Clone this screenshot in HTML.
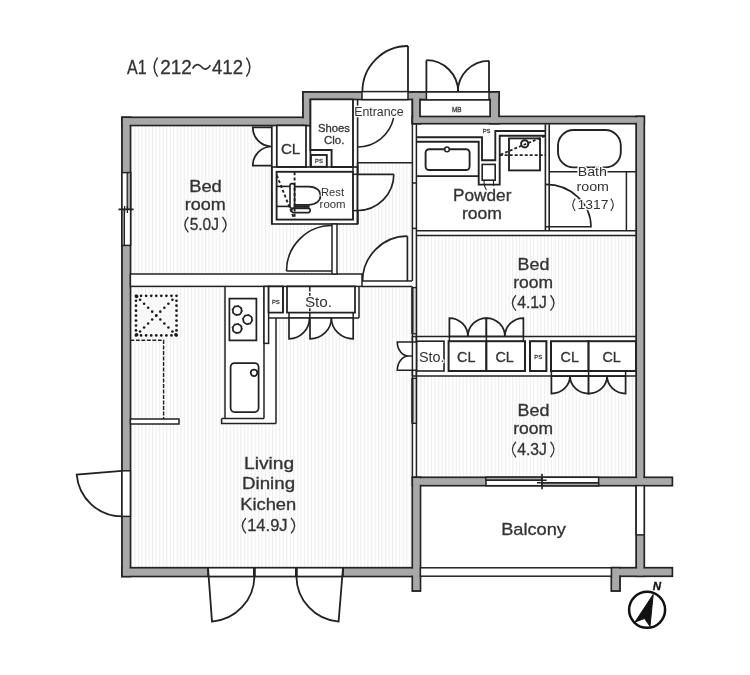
<!DOCTYPE html>
<html><head><meta charset="utf-8"><title>A1 floor plan</title>
<style>
html,body{margin:0;padding:0;background:#fff;}
body{width:750px;height:675px;overflow:hidden;font-family:"Liberation Sans",sans-serif;}
svg{display:block;will-change:transform;}
svg text{font-family:"Liberation Sans",sans-serif;}
</style></head><body>
<svg width="750" height="675" viewBox="0 0 750 675">
<rect x="0" y="0" width="750" height="675" fill="#ffffff"/>
<defs><pattern id="st" x="0.3" y="0" width="3.53" height="10" patternUnits="userSpaceOnUse"><rect x="0" y="0" width="3.53" height="10" fill="#fefefe"/><rect x="0" y="0" width="1.0" height="10" fill="#ededed"/></pattern></defs>
<rect x="130" y="124" width="506.5" height="444" fill="url(#st)"/>
<rect x="271.80" y="99.00" width="85.80" height="125.00" fill="#fff" stroke="none" stroke-width="0.0" />
<rect x="357.60" y="99.00" width="54.80" height="63.80" fill="#fff" stroke="none" stroke-width="0.0" />
<rect x="412.40" y="124.00" width="223.80" height="111.60" fill="#fff" stroke="none" stroke-width="0.0" />
<rect x="130.40" y="274.00" width="231.60" height="12.40" fill="#fff" stroke="none" stroke-width="0.0" />
<rect x="362.00" y="281.00" width="50.00" height="5.40" fill="#fff" stroke="none" stroke-width="0.0" />
<rect x="225.00" y="286.40" width="51.00" height="137.00" fill="#fff" stroke="none" stroke-width="0.0" />
<rect x="221.60" y="418.40" width="4.40" height="5.00" fill="#fff" stroke="none" stroke-width="0.0" />
<rect x="264.00" y="286.40" width="95.00" height="31.60" fill="#fff" stroke="none" stroke-width="0.0" />
<rect x="412.40" y="337.00" width="223.80" height="39.00" fill="#fff" stroke="none" stroke-width="0.0" />
<rect x="412.40" y="124.00" width="4.00" height="354.00" fill="#fff" stroke="none" stroke-width="0.0" />
<rect x="420.40" y="485.60" width="215.80" height="82.40" fill="#fff" stroke="none" stroke-width="0.0" />
<rect x="130.00" y="100.00" width="141.80" height="25.00" fill="#fff" stroke="none" stroke-width="0.0" />
<rect x="412.00" y="100.00" width="228.00" height="18.00" fill="#fff" stroke="none" stroke-width="0.0" />
<rect x="122.00" y="117.40" width="8.40" height="459.00" fill="#a8a8a8" stroke="#222" stroke-width="1.88" />
<rect x="122.00" y="117.40" width="188.40" height="8.00" fill="#a8a8a8" stroke="#222" stroke-width="1.88" />
<rect x="303.00" y="92.00" width="7.40" height="33.40" fill="#a8a8a8" stroke="#222" stroke-width="1.88" />
<rect x="303.00" y="92.00" width="196.00" height="7.40" fill="#a8a8a8" stroke="#222" stroke-width="1.88" />
<rect x="412.40" y="92.00" width="7.70" height="31.60" fill="#a8a8a8" stroke="#222" stroke-width="1.88" />
<rect x="490.00" y="92.00" width="9.00" height="31.60" fill="#a8a8a8" stroke="#222" stroke-width="1.88" />
<rect x="412.40" y="116.50" width="231.80" height="7.10" fill="#a8a8a8" stroke="#222" stroke-width="1.88" />
<rect x="636.20" y="116.50" width="8.00" height="459.70" fill="#a8a8a8" stroke="#222" stroke-width="1.88" />
<rect x="412.60" y="477.40" width="259.70" height="8.20" fill="#a8a8a8" stroke="#222" stroke-width="1.88" />
<rect x="122.00" y="567.80" width="298.40" height="8.60" fill="#a8a8a8" stroke="#222" stroke-width="1.88" />
<rect x="412.40" y="477.40" width="8.00" height="113.60" fill="#a8a8a8" stroke="#222" stroke-width="1.88" />
<rect x="611.40" y="567.80" width="60.90" height="8.40" fill="#a8a8a8" stroke="#222" stroke-width="1.88" />
<rect x="611.40" y="567.80" width="8.60" height="23.20" fill="#a8a8a8" stroke="#222" stroke-width="1.88" />
<rect x="122.93" y="118.33" width="6.54" height="457.14" fill="#a8a8a8" stroke="none" stroke-width="0.0" />
<rect x="122.93" y="118.33" width="186.54" height="6.14" fill="#a8a8a8" stroke="none" stroke-width="0.0" />
<rect x="303.93" y="92.93" width="5.54" height="31.54" fill="#a8a8a8" stroke="none" stroke-width="0.0" />
<rect x="303.93" y="92.93" width="194.14" height="5.54" fill="#a8a8a8" stroke="none" stroke-width="0.0" />
<rect x="413.33" y="92.93" width="5.84" height="29.74" fill="#a8a8a8" stroke="none" stroke-width="0.0" />
<rect x="490.93" y="92.93" width="7.14" height="29.74" fill="#a8a8a8" stroke="none" stroke-width="0.0" />
<rect x="413.33" y="117.43" width="229.94" height="5.24" fill="#a8a8a8" stroke="none" stroke-width="0.0" />
<rect x="637.13" y="117.43" width="6.14" height="457.84" fill="#a8a8a8" stroke="none" stroke-width="0.0" />
<rect x="413.53" y="478.33" width="257.84" height="6.34" fill="#a8a8a8" stroke="none" stroke-width="0.0" />
<rect x="122.93" y="568.73" width="296.54" height="6.74" fill="#a8a8a8" stroke="none" stroke-width="0.0" />
<rect x="413.33" y="478.33" width="6.14" height="111.74" fill="#a8a8a8" stroke="none" stroke-width="0.0" />
<rect x="612.33" y="568.73" width="59.04" height="6.54" fill="#a8a8a8" stroke="none" stroke-width="0.0" />
<rect x="612.33" y="568.73" width="6.74" height="21.34" fill="#a8a8a8" stroke="none" stroke-width="0.0" />
<rect x="362.00" y="91.60" width="46.00" height="8.00" fill="#fff" stroke="#222" stroke-width="1.5" />
<path d="M408.00,46.00 A45.60,45.60 0 0 0 362.40,91.60" fill="none" stroke="#222" stroke-width="1.81" />
<line x1="408.00" y1="91.60" x2="408.00" y2="46.00" stroke="#222" stroke-width="1.81" />
<rect x="426.40" y="92.00" width="62.60" height="8.00" fill="#fff" stroke="#222" stroke-width="1.5" />
<rect x="420.10" y="100.00" width="69.90" height="16.40" fill="#fff" stroke="#222" stroke-width="1.5" />
<path d="M426.40,60.20 A31.80,31.80 0 0 1 458.20,92.00" fill="none" stroke="#222" stroke-width="1.81" />
<line x1="426.40" y1="92.00" x2="426.40" y2="60.20" stroke="#222" stroke-width="1.81" />
<path d="M489.00,60.80 A31.20,31.20 0 0 0 457.80,92.00" fill="none" stroke="#222" stroke-width="1.81" />
<line x1="489.00" y1="92.00" x2="489.00" y2="60.80" stroke="#222" stroke-width="1.81" />
<text x="456.70" y="111.60" font-size="6.4" text-anchor="middle" font-weight="normal" font-style="normal" fill="#444"  stroke="#444" stroke-width="0.3">MB</text>
<rect x="122.00" y="172.60" width="8.60" height="72.80" fill="#fff" stroke="#222" stroke-width="1.5" />
<rect x="127.20" y="172.60" width="3.40" height="36.80" fill="#a8a8a8" stroke="#222" stroke-width="1.25" />
<rect x="122.00" y="209.40" width="2.40" height="36.00" fill="#a8a8a8" stroke="#222" stroke-width="1.25" />
<line x1="118.40" y1="209.40" x2="133.60" y2="209.40" stroke="#222" stroke-width="1.75" />
<line x1="124.60" y1="206.00" x2="124.60" y2="213.00" stroke="#222" stroke-width="1.25" />
<line x1="127.40" y1="206.00" x2="127.40" y2="213.00" stroke="#222" stroke-width="1.25" />
<rect x="122.00" y="470.80" width="8.40" height="45.60" fill="#fff" stroke="#222" stroke-width="1.5" />
<path d="M122,470.8 L76.7,474.6 A45.6,45.6 0 0 0 122,516.4" fill="none" stroke="#222" stroke-width="1.81" />
<rect x="208.00" y="567.80" width="135.00" height="8.60" fill="#fff" stroke="#222" stroke-width="1.5" />
<line x1="254.40" y1="567.80" x2="254.40" y2="576.40" stroke="#222" stroke-width="2.75" />
<line x1="296.40" y1="567.80" x2="296.40" y2="576.40" stroke="#222" stroke-width="2.75" />
<path d="M208,567.8 L212,621.6 A46,46 0 0 0 254.4,576.4" fill="none" stroke="#222" stroke-width="1.81" />
<path d="M343,567.8 L338.6,621.6 A46,46 0 0 1 296.4,576.4" fill="none" stroke="#222" stroke-width="1.81" />
<rect x="486.00" y="477.30" width="112.60" height="8.40" fill="#fff" stroke="#222" stroke-width="1.5" />
<rect x="486.00" y="477.30" width="56.00" height="2.90" fill="#a8a8a8" stroke="#222" stroke-width="1.12" />
<rect x="542.00" y="482.80" width="56.60" height="2.90" fill="#a8a8a8" stroke="#222" stroke-width="1.12" />
<line x1="486.00" y1="480.20" x2="546.60" y2="480.20" stroke="#222" stroke-width="1.5" />
<line x1="537.00" y1="482.80" x2="598.60" y2="482.80" stroke="#222" stroke-width="1.5" />
<line x1="542.00" y1="473.70" x2="542.00" y2="489.30" stroke="#222" stroke-width="1.62" />
<rect x="636.20" y="485.60" width="8.00" height="49.30" fill="#fff" stroke="#222" stroke-width="1.5" />
<rect x="420.40" y="567.80" width="191.00" height="8.40" fill="#fff" stroke="#222" stroke-width="1.5" />
<rect x="130.40" y="274.00" width="231.60" height="12.40" fill="#fff" stroke="#222" stroke-width="1.5" />
<line x1="412.40" y1="124.20" x2="412.40" y2="281.00" stroke="#222" stroke-width="1.5" />
<line x1="412.40" y1="286.40" x2="412.40" y2="478.00" stroke="#222" stroke-width="1.5" />
<line x1="416.40" y1="124.20" x2="416.40" y2="478.00" stroke="#222" stroke-width="1.5" />
<rect x="412.40" y="287.60" width="4.00" height="46.20" fill="#d8d8d8" stroke="#222" stroke-width="1.38" />
<rect x="412.40" y="378.30" width="4.00" height="45.00" fill="#d8d8d8" stroke="#222" stroke-width="1.38" />
<line x1="412.40" y1="287.60" x2="412.40" y2="333.80" stroke="#222" stroke-width="2.12" />
<line x1="412.40" y1="378.30" x2="412.40" y2="423.30" stroke="#222" stroke-width="2.12" />
<line x1="412.40" y1="183.00" x2="416.40" y2="183.00" stroke="#222" stroke-width="1.5" />
<line x1="412.40" y1="228.40" x2="416.40" y2="228.40" stroke="#222" stroke-width="1.5" />
<line x1="416.40" y1="230.80" x2="636.20" y2="230.80" stroke="#222" stroke-width="1.5" />
<line x1="416.40" y1="235.60" x2="636.20" y2="235.60" stroke="#222" stroke-width="1.5" />
<line x1="412.40" y1="336.40" x2="636.20" y2="336.40" stroke="#222" stroke-width="1.5" />
<line x1="412.40" y1="376.00" x2="636.20" y2="376.00" stroke="#222" stroke-width="1.5" />
<path d="M271.8,127.4 L252.8,127.4 A19,19 0 0 0 271.2,146.5 A19,19 0 0 0 252.8,165.6 L271.8,165.6" fill="#fff" stroke="#222" stroke-width="1.69" />
<line x1="271.80" y1="125.40" x2="271.80" y2="224.00" stroke="#222" stroke-width="1.75" />
<rect x="276.80" y="125.40" width="29.20" height="41.60" fill="#fff" stroke="#222" stroke-width="1.75" />
<line x1="310.40" y1="125.40" x2="310.40" y2="167.00" stroke="#222" stroke-width="1.75" />
<path d="M310.40,99.40 L353.00,99.40 L353.00,167.00 L331.60,167.00 L331.60,150.00 L310.40,150.00 Z" fill="#fff" stroke="#222" stroke-width="1.88" />
<line x1="357.60" y1="99.40" x2="357.60" y2="224.00" stroke="#222" stroke-width="1.62" />
<rect x="311.00" y="155.00" width="15.80" height="11.80" fill="#fff" stroke="#222" stroke-width="1.88" />
<text x="318.90" y="163.20" font-size="5.8" text-anchor="middle" font-weight="normal" font-style="normal" fill="#444"  stroke="#444" stroke-width="0.3">PS</text>
<rect x="271.80" y="167.00" width="85.80" height="57.00" fill="none" stroke="#222" stroke-width="1.62" />
<rect x="276.60" y="171.80" width="76.40" height="47.80" fill="none" stroke="#222" stroke-width="1.88" />
<line x1="353.00" y1="167.00" x2="353.00" y2="171.80" stroke="#222" stroke-width="1.5" />
<line x1="357.60" y1="162.80" x2="412.40" y2="162.80" stroke="#222" stroke-width="1.5" />
<line x1="412.40" y1="99.40" x2="412.40" y2="124.20" stroke="#222" stroke-width="1.5" />
<path d="M393.6,118 A37,37 0 0 1 357.6,147" fill="none" stroke="#222" stroke-width="1.5" />
<path d="M357.60,174.30 L393.80,174.30 A36.20,36.20 0 0 1 357.60,210.50 Z" fill="#fff" stroke="none" stroke-width="1.5" />
<path d="M393.80,174.30 A36.20,36.20 0 0 1 357.60,210.50" fill="none" stroke="#222" stroke-width="1.69" />
<line x1="357.60" y1="174.30" x2="393.80" y2="174.30" stroke="#222" stroke-width="1.69" />
<line x1="357.60" y1="162.80" x2="357.60" y2="224.00" stroke="#222" stroke-width="1.62" />
<line x1="353.00" y1="174.30" x2="357.60" y2="174.30" stroke="#222" stroke-width="1.5" />
<line x1="353.00" y1="210.60" x2="357.60" y2="210.60" stroke="#222" stroke-width="1.5" />
<path d="M332.00,271.00 L286.50,271.00 A45.50,45.50 0 0 1 332.00,225.50 Z" fill="#fff" stroke="none" stroke-width="1.5" />
<path d="M286.50,271.00 A45.50,45.50 0 0 1 332.00,225.50" fill="none" stroke="#222" stroke-width="1.69" />
<line x1="332.00" y1="271.00" x2="286.50" y2="271.00" stroke="#222" stroke-width="1.69" />
<rect x="332.00" y="224.00" width="5.00" height="50.00" fill="#fff" stroke="#222" stroke-width="1.5" />
<path d="M407.40,281.00 L407.40,236.20 A44.80,44.80 0 0 0 362.60,281.00 Z" fill="#fff" stroke="none" stroke-width="1.5" />
<path d="M407.40,236.20 A44.80,44.80 0 0 0 362.60,281.00" fill="none" stroke="#222" stroke-width="1.69" />
<line x1="407.40" y1="281.00" x2="407.40" y2="236.20" stroke="#222" stroke-width="1.69" />
<line x1="362.00" y1="281.00" x2="412.00" y2="281.00" stroke="#222" stroke-width="1.5" />
<line x1="362.00" y1="286.40" x2="412.00" y2="286.40" stroke="#222" stroke-width="1.5" />
<line x1="276.60" y1="186.40" x2="289.80" y2="186.40" stroke="#222" stroke-width="1.62" />
<line x1="276.60" y1="206.40" x2="289.80" y2="206.40" stroke="#222" stroke-width="1.62" />
<path d="M294.4,186.6 L309,186.6 C316.5,186.8 320.6,191 320.6,195.6 C320.6,200.4 316.5,204.6 309,204.8 L294.4,204.8" fill="#fff" stroke="#222" stroke-width="1.75" />
<rect x="290.00" y="183.60" width="4.60" height="24.60" fill="#fff" stroke="#222" stroke-width="1.62" rx="2"/>
<line x1="294.60" y1="206.60" x2="309.60" y2="206.60" stroke="#222" stroke-width="2.5" />
<rect x="291.60" y="208.40" width="18.60" height="4.20" fill="#fff" stroke="#222" stroke-width="1.62" rx="2"/>
<line x1="294.60" y1="172.20" x2="294.60" y2="219.60" stroke="#222" stroke-width="1.88" stroke-dasharray="3 2.2"/>
<line x1="276.80" y1="175.40" x2="294.40" y2="219.40" stroke="#222" stroke-width="1.88" stroke-dasharray="3 2.2"/>
<path d="M416.40,137.20 L482.00,137.20 L482.00,160.30 L495.30,160.30 L495.30,131.00 L545.30,131.00" fill="none" stroke="#222" stroke-width="1.88" />
<path d="M545.30,135.80 L499.70,135.80 L499.70,184.60 L478.70,184.60 L478.70,141.80 L416.40,141.80" fill="none" stroke="#222" stroke-width="1.88" />
<line x1="416.40" y1="176.00" x2="478.70" y2="176.00" stroke="#222" stroke-width="1.75" />
<rect x="425.60" y="149.20" width="44.00" height="20.80" fill="#fff" stroke="#222" stroke-width="1.88" rx="3.5"/>
<circle cx="447.00" cy="149.40" r="2.30" fill="#fff" stroke="#222" stroke-width="1.5"/>
<rect x="482.20" y="164.40" width="13.00" height="15.80" fill="#fff" stroke="#222" stroke-width="1.62" />
<path d="M484,180.2 C484,185 485,188 486.5,190 M493.5,180.2 L493.5,186" fill="none" stroke="#222" stroke-width="1.12" />
<text x="486.60" y="133.30" font-size="5.8" text-anchor="middle" font-weight="normal" font-style="normal" fill="#444"  stroke="#444" stroke-width="0.3">PS</text>
<rect x="509.00" y="138.40" width="31.00" height="32.00" fill="#fff" stroke="#222" stroke-width="1.88" />
<circle cx="524.70" cy="143.80" r="3.60" fill="#fff" stroke="#222" stroke-width="2.0"/>
<line x1="499.70" y1="155.00" x2="545.30" y2="155.00" stroke="#222" stroke-width="1.75" stroke-dasharray="3 2"/>
<line x1="500.50" y1="154.60" x2="545.00" y2="136.00" stroke="#222" stroke-width="1.75" stroke-dasharray="3 2"/>
<rect x="558.00" y="130.00" width="62.80" height="37.40" fill="#fff" stroke="#222" stroke-width="1.88" rx="15.5" ry="15.5"/>
<line x1="549.20" y1="171.80" x2="636.20" y2="171.80" stroke="#222" stroke-width="1.5" />
<line x1="626.40" y1="171.80" x2="626.40" y2="230.80" stroke="#222" stroke-width="1.5" />
<path d="M545.6,226.8 L545.6,184.4 A45.4,42.4 0 0 1 591,226.8 Z" fill="#fff" stroke="none" stroke-width="1.5" />
<path d="M545.6,184.4 A45.4,42.4 0 0 1 591,226.8 L545.6,226.8" fill="none" stroke="#222" stroke-width="1.62" />
<line x1="545.40" y1="124.20" x2="545.40" y2="230.80" stroke="#222" stroke-width="1.62" />
<line x1="549.20" y1="124.20" x2="549.20" y2="230.80" stroke="#222" stroke-width="1.62" />
<rect x="416.60" y="341.20" width="27.40" height="29.80" fill="#fff" stroke="#222" stroke-width="1.62" />
<rect x="448.60" y="341.20" width="37.80" height="29.80" fill="#fff" stroke="#222" stroke-width="2.0" />
<rect x="486.40" y="341.20" width="38.60" height="29.80" fill="#fff" stroke="#222" stroke-width="2.0" />
<rect x="530.00" y="341.20" width="16.40" height="29.80" fill="#fff" stroke="#222" stroke-width="2.0" />
<rect x="551.00" y="341.20" width="37.60" height="29.80" fill="#fff" stroke="#222" stroke-width="2.0" />
<rect x="588.60" y="341.20" width="47.40" height="29.80" fill="#fff" stroke="#222" stroke-width="2.0" />
<text x="538.20" y="358.80" font-size="5.8" text-anchor="middle" font-weight="normal" font-style="normal" fill="#444"  stroke="#444" stroke-width="0.3">PS</text>
<path d="M416.6,342 L397.3,342 A11.4,14 0 0 0 408.7,356 L412.2,356 L408.7,356 A11.4,14.2 0 0 0 397.3,370.2 L416.6,370.2" fill="#fff" stroke="#222" stroke-width="1.62" />
<line x1="416.40" y1="336.40" x2="416.40" y2="376.00" stroke="#222" stroke-width="1.5" />
<line x1="412.40" y1="336.40" x2="412.40" y2="376.00" stroke="#222" stroke-width="1.5" />
<path d="M449.4,336.4 L449.4,318.0 A18.50,18.4 0 0 1 467.9,336.4 A18.50,18.4 0 0 1 486.4,318.0 L486.4,336.4 Z" fill="#fff" stroke="#222" stroke-width="1.75" />
<path d="M486.4,336.4 L486.4,318.0 A18.50,18.4 0 0 1 504.9,336.4 A18.50,18.4 0 0 1 523.4,318.0 L523.4,336.4 Z" fill="#fff" stroke="#222" stroke-width="1.75" />
<path d="M551.4,376 L551.4,393.6 A18.60,17.6 0 0 0 570.0,376 A18.60,17.6 0 0 0 588.6,393.6 L588.6,376 Z" fill="#fff" stroke="#222" stroke-width="1.75" />
<path d="M588.6,376 L588.6,393.6 A18.50,17.6 0 0 0 607.1,376 A18.50,17.6 0 0 0 625.6,393.6 L625.6,376 Z" fill="#fff" stroke="#222" stroke-width="1.75" />
<line x1="551.40" y1="371.00" x2="551.40" y2="376.00" stroke="#222" stroke-width="1.5" />
<line x1="588.60" y1="371.00" x2="588.60" y2="376.00" stroke="#222" stroke-width="1.5" />
<line x1="625.60" y1="371.00" x2="625.60" y2="376.00" stroke="#222" stroke-width="1.5" />
<line x1="449.40" y1="336.40" x2="449.40" y2="341.20" stroke="#222" stroke-width="1.5" />
<line x1="486.40" y1="336.40" x2="486.40" y2="341.20" stroke="#222" stroke-width="1.5" />
<line x1="523.40" y1="336.40" x2="523.40" y2="341.20" stroke="#222" stroke-width="1.5" />
<line x1="225.00" y1="286.40" x2="225.00" y2="418.40" stroke="#222" stroke-width="1.5" />
<line x1="264.00" y1="286.40" x2="264.00" y2="418.40" stroke="#222" stroke-width="1.5" />
<rect x="264.00" y="286.40" width="4.60" height="57.00" fill="#fff" stroke="#222" stroke-width="1.5" />
<rect x="268.60" y="286.40" width="14.40" height="26.20" fill="#fff" stroke="#222" stroke-width="1.75" />
<text x="275.80" y="304.00" font-size="5.8" text-anchor="middle" font-weight="normal" font-style="normal" fill="#444"  stroke="#444" stroke-width="0.3">PS</text>
<rect x="287.00" y="286.40" width="68.00" height="26.20" fill="#fff" stroke="#222" stroke-width="1.75" />
<line x1="283.00" y1="286.40" x2="283.00" y2="312.60" stroke="#222" stroke-width="1.5" />
<line x1="359.00" y1="286.40" x2="359.00" y2="318.00" stroke="#222" stroke-width="1.5" />
<line x1="268.60" y1="318.00" x2="359.00" y2="318.00" stroke="#222" stroke-width="1.5" />
<line x1="276.00" y1="318.00" x2="276.00" y2="423.40" stroke="#222" stroke-width="1.5" />
<path d="M221.60,418.40 L264.00,418.40" fill="none" stroke="#222" stroke-width="1.5" />
<path d="M221.60,418.40 L221.60,423.40 L276.00,423.40" fill="none" stroke="#222" stroke-width="1.5" />
<line x1="309.80" y1="286.40" x2="309.80" y2="318.00" stroke="#222" stroke-width="1.5" stroke-dasharray="5 1.6"/>
<rect x="229.40" y="298.60" width="27.00" height="41.80" fill="#fff" stroke="#222" stroke-width="1.75" />
<circle cx="237.20" cy="310.40" r="4.40" fill="#fff" stroke="#222" stroke-width="1.75"/>
<circle cx="237.2" cy="310.4" r="5.1" fill="none" stroke="#222" stroke-width="1" stroke-dasharray="1.3 2.7"/>
<circle cx="247.60" cy="319.60" r="4.40" fill="#fff" stroke="#222" stroke-width="1.75"/>
<circle cx="247.6" cy="319.6" r="5.1" fill="none" stroke="#222" stroke-width="1" stroke-dasharray="1.3 2.7"/>
<circle cx="237.20" cy="328.40" r="4.40" fill="#fff" stroke="#222" stroke-width="1.75"/>
<circle cx="237.2" cy="328.4" r="5.1" fill="none" stroke="#222" stroke-width="1" stroke-dasharray="1.3 2.7"/>
<rect x="230.60" y="363.00" width="28.00" height="49.00" fill="#fff" stroke="#222" stroke-width="1.75" rx="4"/>
<circle cx="254.00" cy="372.80" r="3.30" fill="#fff" stroke="#222" stroke-width="1.75"/>
<path d="M289,318 L289,338.8 A20.5,20.8 0 0 0 309.5,318 Z" fill="#fff" stroke="#222" stroke-width="1.69" />
<line x1="289.00" y1="312.60" x2="289.00" y2="318.00" stroke="#222" stroke-width="1.5" />
<path d="M310,318 L310,338.8 A21.4,20.8 0 0 0 331.4,318 Z" fill="#fff" stroke="#222" stroke-width="1.69" />
<path d="M353.2,318 L353.2,338.8 A21.8,20.8 0 0 1 331.4,318 Z" fill="#fff" stroke="#222" stroke-width="1.69" />
<line x1="353.20" y1="312.60" x2="353.20" y2="318.00" stroke="#222" stroke-width="1.5" />
<rect x="136.00" y="295.80" width="40.50" height="39.60" fill="#f8f8f8" stroke="none" stroke-width="0.0" />
<circle cx="136.00" cy="295.80" r="1.35" fill="#1a1a1a"/>
<circle cx="141.06" cy="295.80" r="1.35" fill="#1a1a1a"/>
<circle cx="146.12" cy="295.80" r="1.35" fill="#1a1a1a"/>
<circle cx="151.19" cy="295.80" r="1.35" fill="#1a1a1a"/>
<circle cx="156.25" cy="295.80" r="1.35" fill="#1a1a1a"/>
<circle cx="161.31" cy="295.80" r="1.35" fill="#1a1a1a"/>
<circle cx="166.38" cy="295.80" r="1.35" fill="#1a1a1a"/>
<circle cx="171.44" cy="295.80" r="1.35" fill="#1a1a1a"/>
<circle cx="176.50" cy="295.80" r="1.35" fill="#1a1a1a"/>
<circle cx="136.00" cy="335.40" r="1.35" fill="#1a1a1a"/>
<circle cx="141.06" cy="335.40" r="1.35" fill="#1a1a1a"/>
<circle cx="146.12" cy="335.40" r="1.35" fill="#1a1a1a"/>
<circle cx="151.19" cy="335.40" r="1.35" fill="#1a1a1a"/>
<circle cx="156.25" cy="335.40" r="1.35" fill="#1a1a1a"/>
<circle cx="161.31" cy="335.40" r="1.35" fill="#1a1a1a"/>
<circle cx="166.38" cy="335.40" r="1.35" fill="#1a1a1a"/>
<circle cx="171.44" cy="335.40" r="1.35" fill="#1a1a1a"/>
<circle cx="176.50" cy="335.40" r="1.35" fill="#1a1a1a"/>
<circle cx="136.00" cy="300.75" r="1.35" fill="#1a1a1a"/>
<circle cx="136.00" cy="305.70" r="1.35" fill="#1a1a1a"/>
<circle cx="136.00" cy="310.65" r="1.35" fill="#1a1a1a"/>
<circle cx="136.00" cy="315.60" r="1.35" fill="#1a1a1a"/>
<circle cx="136.00" cy="320.55" r="1.35" fill="#1a1a1a"/>
<circle cx="136.00" cy="325.50" r="1.35" fill="#1a1a1a"/>
<circle cx="136.00" cy="330.45" r="1.35" fill="#1a1a1a"/>
<circle cx="176.50" cy="300.75" r="1.35" fill="#1a1a1a"/>
<circle cx="176.50" cy="305.70" r="1.35" fill="#1a1a1a"/>
<circle cx="176.50" cy="310.65" r="1.35" fill="#1a1a1a"/>
<circle cx="176.50" cy="315.60" r="1.35" fill="#1a1a1a"/>
<circle cx="176.50" cy="320.55" r="1.35" fill="#1a1a1a"/>
<circle cx="176.50" cy="325.50" r="1.35" fill="#1a1a1a"/>
<circle cx="176.50" cy="330.45" r="1.35" fill="#1a1a1a"/>
<circle cx="140.05" cy="299.76" r="1.3" fill="#1a1a1a"/>
<circle cx="144.10" cy="303.72" r="1.3" fill="#1a1a1a"/>
<circle cx="148.15" cy="307.68" r="1.3" fill="#1a1a1a"/>
<circle cx="152.20" cy="311.64" r="1.3" fill="#1a1a1a"/>
<circle cx="156.25" cy="315.60" r="1.3" fill="#1a1a1a"/>
<circle cx="160.30" cy="319.56" r="1.3" fill="#1a1a1a"/>
<circle cx="164.35" cy="323.52" r="1.3" fill="#1a1a1a"/>
<circle cx="168.40" cy="327.48" r="1.3" fill="#1a1a1a"/>
<circle cx="172.45" cy="331.44" r="1.3" fill="#1a1a1a"/>
<circle cx="172.45" cy="299.76" r="1.3" fill="#1a1a1a"/>
<circle cx="168.40" cy="303.72" r="1.3" fill="#1a1a1a"/>
<circle cx="164.35" cy="307.68" r="1.3" fill="#1a1a1a"/>
<circle cx="160.30" cy="311.64" r="1.3" fill="#1a1a1a"/>
<circle cx="156.25" cy="315.60" r="1.3" fill="#1a1a1a"/>
<circle cx="152.20" cy="319.56" r="1.3" fill="#1a1a1a"/>
<circle cx="148.15" cy="323.52" r="1.3" fill="#1a1a1a"/>
<circle cx="144.10" cy="327.48" r="1.3" fill="#1a1a1a"/>
<circle cx="140.05" cy="331.44" r="1.3" fill="#1a1a1a"/>
<circle cx="136.6" cy="296.4" r="1.8" fill="#1a1a1a"/>
<circle cx="175.9" cy="334.8" r="1.8" fill="#1a1a1a"/>
<circle cx="136.6" cy="334.8" r="1.8" fill="#1a1a1a"/>
<path d="M130.40,340.30 L163.60,340.30 L163.60,419.00" fill="none" stroke="#222" stroke-width="1.44" stroke-dasharray="3.8 1.7"/>
<rect x="130.40" y="419.00" width="48.60" height="5.00" fill="#fff" stroke="#222" stroke-width="1.5" />
<circle cx="647.10" cy="609.80" r="18.00" fill="#fff" stroke="#111" stroke-width="2.5"/>
<path d="M653.20,594.40 L635.00,622.00 L644.50,618.50 L650.00,626.30 Z" fill="#111" stroke="#111" stroke-width="1.0" />
<text x="656.80" y="590.40" font-size="11.5" text-anchor="middle" font-weight="bold" font-style="italic" fill="#111"  stroke="#111" stroke-width="0.3">N</text>
<text x="127.00" y="73.60" font-size="20" text-anchor="start" font-weight="normal" font-style="normal" fill="#333" textLength="19.60" lengthAdjust="spacingAndGlyphs"  stroke="#333" stroke-width="0.3">A1</text>
<text x="160.20" y="73.60" font-size="20" text-anchor="start" font-weight="normal" font-style="normal" fill="#333" textLength="31.60" lengthAdjust="spacingAndGlyphs"  stroke="#333" stroke-width="0.3">212</text>
<text x="212.00" y="73.60" font-size="20" text-anchor="start" font-weight="normal" font-style="normal" fill="#333" textLength="31.00" lengthAdjust="spacingAndGlyphs"  stroke="#333" stroke-width="0.3">412</text>
<path d="M157.6,57.6 Q150.6,67 157.6,76.6" fill="none" stroke="#333" stroke-width="1.5" />
<path d="M246.4,57.6 Q253.4,67 246.4,76.6" fill="none" stroke="#333" stroke-width="1.5" />
<path d="M192.6,68.6 C195.6,63.4 199,63.8 201.4,66.8 C203.8,69.8 207.4,70.4 210.4,65.2" fill="none" stroke="#333" stroke-width="1.62" />
<text x="189.20" y="191.80" font-size="16" text-anchor="start" font-weight="normal" font-style="normal" fill="#333" textLength="32.60" lengthAdjust="spacingAndGlyphs"  stroke="#333" stroke-width="0.3">Bed</text>
<text x="184.80" y="209.60" font-size="16.4" text-anchor="start" font-weight="normal" font-style="normal" fill="#333" textLength="41.00" lengthAdjust="spacingAndGlyphs"  stroke="#333" stroke-width="0.3">room</text>
<path d="M188.40,217.00 Q181.40,224.70 188.40,232.40" fill="none" stroke="#333" stroke-width="1.31" />
<path d="M222.50,217.00 Q229.50,224.70 222.50,232.40" fill="none" stroke="#333" stroke-width="1.31" />
<text x="189.70" y="230.20" font-size="17.2" text-anchor="start" font-weight="normal" font-style="normal" fill="#333" textLength="29.30" lengthAdjust="spacingAndGlyphs"  stroke="#333" stroke-width="0.3">5.0J</text>
<text x="517.60" y="270.00" font-size="16" text-anchor="start" font-weight="normal" font-style="normal" fill="#333" textLength="31.80" lengthAdjust="spacingAndGlyphs"  stroke="#333" stroke-width="0.3">Bed</text>
<text x="513.20" y="288.00" font-size="16.4" text-anchor="start" font-weight="normal" font-style="normal" fill="#333" textLength="39.80" lengthAdjust="spacingAndGlyphs"  stroke="#333" stroke-width="0.3">room</text>
<path d="M515.90,295.20 Q508.90,302.90 515.90,310.60" fill="none" stroke="#333" stroke-width="1.31" />
<path d="M550.50,295.20 Q557.50,302.90 550.50,310.60" fill="none" stroke="#333" stroke-width="1.31" />
<text x="517.20" y="308.40" font-size="17.2" text-anchor="start" font-weight="normal" font-style="normal" fill="#333" textLength="29.80" lengthAdjust="spacingAndGlyphs"  stroke="#333" stroke-width="0.3">4.1J</text>
<text x="517.60" y="415.60" font-size="16" text-anchor="start" font-weight="normal" font-style="normal" fill="#333" textLength="31.80" lengthAdjust="spacingAndGlyphs"  stroke="#333" stroke-width="0.3">Bed</text>
<text x="513.20" y="433.60" font-size="16.4" text-anchor="start" font-weight="normal" font-style="normal" fill="#333" textLength="39.80" lengthAdjust="spacingAndGlyphs"  stroke="#333" stroke-width="0.3">room</text>
<path d="M515.90,441.80 Q508.90,449.50 515.90,457.20" fill="none" stroke="#333" stroke-width="1.31" />
<path d="M550.50,441.80 Q557.50,449.50 550.50,457.20" fill="none" stroke="#333" stroke-width="1.31" />
<text x="517.20" y="455.00" font-size="17.2" text-anchor="start" font-weight="normal" font-style="normal" fill="#333" textLength="29.80" lengthAdjust="spacingAndGlyphs"  stroke="#333" stroke-width="0.3">4.3J</text>
<text x="244.00" y="468.60" font-size="16.2" text-anchor="start" font-weight="normal" font-style="normal" fill="#333" textLength="50.10" lengthAdjust="spacingAndGlyphs"  stroke="#333" stroke-width="0.3">Living</text>
<text x="242.00" y="489.40" font-size="16.2" text-anchor="start" font-weight="normal" font-style="normal" fill="#333" textLength="53.10" lengthAdjust="spacingAndGlyphs"  stroke="#333" stroke-width="0.3">Dining</text>
<text x="240.20" y="509.60" font-size="16.2" text-anchor="start" font-weight="normal" font-style="normal" fill="#333" textLength="56.10" lengthAdjust="spacingAndGlyphs"  stroke="#333" stroke-width="0.3">Kichen</text>
<path d="M245.90,518.00 Q238.90,525.70 245.90,533.40" fill="none" stroke="#333" stroke-width="1.31" />
<path d="M291.10,518.00 Q298.10,525.70 291.10,533.40" fill="none" stroke="#333" stroke-width="1.31" />
<text x="247.20" y="531.20" font-size="17.2" text-anchor="start" font-weight="normal" font-style="normal" fill="#333" textLength="40.40" lengthAdjust="spacingAndGlyphs"  stroke="#333" stroke-width="0.3">14.9J</text>
<text x="501.20" y="534.50" font-size="16.6" text-anchor="start" font-weight="normal" font-style="normal" fill="#333" textLength="64.80" lengthAdjust="spacingAndGlyphs"  stroke="#333" stroke-width="0.3">Balcony</text>
<text x="453.00" y="201.40" font-size="16.6" text-anchor="start" font-weight="normal" font-style="normal" fill="#333" textLength="58.40" lengthAdjust="spacingAndGlyphs"  stroke="#333" stroke-width="0.3">Powder</text>
<text x="462.00" y="219.40" font-size="16.6" text-anchor="start" font-weight="normal" font-style="normal" fill="#333" textLength="40.00" lengthAdjust="spacingAndGlyphs"  stroke="#333" stroke-width="0.3">room</text>
<text x="577.70" y="176.00" font-size="12" text-anchor="start" font-weight="normal" font-style="normal" fill="#333" textLength="29.30" lengthAdjust="spacingAndGlyphs" paint-order="stroke" stroke="#fff" stroke-width="2.5" stroke-linejoin="round">Bath</text>
<text x="576.50" y="191.00" font-size="12" text-anchor="start" font-weight="normal" font-style="normal" fill="#333" textLength="32.50" lengthAdjust="spacingAndGlyphs" paint-order="stroke" stroke="#fff" stroke-width="2.5" stroke-linejoin="round">room</text>
<text x="577.60" y="209.00" font-size="12.4" text-anchor="start" font-weight="normal" font-style="normal" fill="#333" textLength="31.00" lengthAdjust="spacingAndGlyphs" paint-order="stroke" stroke="#fff" stroke-width="2.5" stroke-linejoin="round">1317</text>
<path d="M575.2,198.6 Q570.4,204.4 575.2,211" fill="none" stroke="#333" stroke-width="1.12" />
<path d="M610.8,198.6 Q615.6,204.4 610.8,211" fill="none" stroke="#333" stroke-width="1.12" />
<text x="354.20" y="116.00" font-size="12" text-anchor="start" font-weight="normal" font-style="normal" fill="#333" textLength="49.50" lengthAdjust="spacingAndGlyphs" paint-order="stroke" stroke="#fff" stroke-width="2.5" stroke-linejoin="round">Entrance</text>
<text x="318.00" y="132.00" font-size="11.6" text-anchor="start" font-weight="normal" font-style="normal" fill="#333" textLength="32.00" lengthAdjust="spacingAndGlyphs"  stroke="#333" stroke-width="0.3">Shoes</text>
<text x="324.00" y="144.00" font-size="11.6" text-anchor="start" font-weight="normal" font-style="normal" fill="#333" textLength="20.40" lengthAdjust="spacingAndGlyphs"  stroke="#333" stroke-width="0.3">Clo.</text>
<text x="280.90" y="154.00" font-size="14.6" text-anchor="start" font-weight="normal" font-style="normal" fill="#333" textLength="19.40" lengthAdjust="spacingAndGlyphs"  stroke="#333" stroke-width="0.3">CL</text>
<text x="321.00" y="196.40" font-size="11.6" text-anchor="start" font-weight="normal" font-style="normal" fill="#333" textLength="23.00" lengthAdjust="spacingAndGlyphs" paint-order="stroke" stroke="#fff" stroke-width="2.5" stroke-linejoin="round">Rest</text>
<text x="319.60" y="208.00" font-size="11.6" text-anchor="start" font-weight="normal" font-style="normal" fill="#333" textLength="26.00" lengthAdjust="spacingAndGlyphs" paint-order="stroke" stroke="#fff" stroke-width="2.5" stroke-linejoin="round">room</text>
<text x="304.90" y="306.60" font-size="14.8" text-anchor="start" font-weight="normal" font-style="normal" fill="#333" textLength="27.20" lengthAdjust="spacingAndGlyphs" paint-order="stroke" stroke="#fff" stroke-width="2.5" stroke-linejoin="round">Sto.</text>
<text x="419.00" y="362.00" font-size="14.8" text-anchor="start" font-weight="normal" font-style="normal" fill="#333" textLength="25.60" lengthAdjust="spacingAndGlyphs" paint-order="stroke" stroke="#fff" stroke-width="2.5" stroke-linejoin="round">Sto.</text>
<text x="457.00" y="362.00" font-size="14.8" text-anchor="start" font-weight="normal" font-style="normal" fill="#333" textLength="18.40" lengthAdjust="spacingAndGlyphs"  stroke="#333" stroke-width="0.3">CL</text>
<text x="495.40" y="362.00" font-size="14.8" text-anchor="start" font-weight="normal" font-style="normal" fill="#333" textLength="18.40" lengthAdjust="spacingAndGlyphs"  stroke="#333" stroke-width="0.3">CL</text>
<text x="560.60" y="362.00" font-size="14.8" text-anchor="start" font-weight="normal" font-style="normal" fill="#333" textLength="18.40" lengthAdjust="spacingAndGlyphs"  stroke="#333" stroke-width="0.3">CL</text>
<text x="602.40" y="362.00" font-size="14.8" text-anchor="start" font-weight="normal" font-style="normal" fill="#333" textLength="18.40" lengthAdjust="spacingAndGlyphs"  stroke="#333" stroke-width="0.3">CL</text>
</svg>
</body></html>
